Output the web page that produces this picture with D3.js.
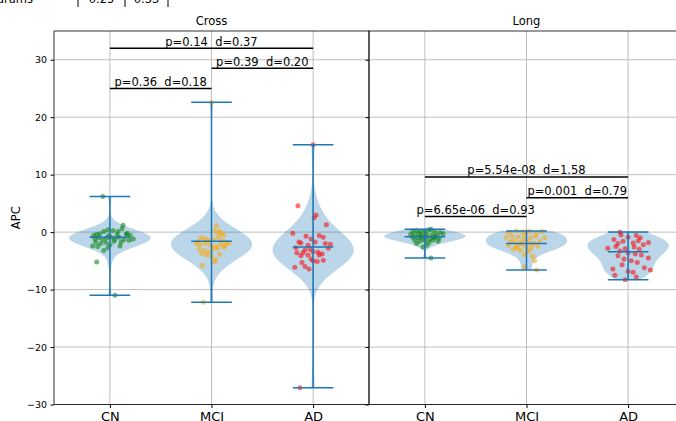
<!DOCTYPE html>
<html>
<head>
<meta charset="utf-8">
<script src="https://cdn.jsdelivr.net/npm/d3@7"></script>
<style>
  body { margin: 0; background: #fff; overflow: hidden; }
  svg { display: block; }
  text { font-family: "DejaVu Sans", sans-serif; fill: #000; }
</style>
</head>
<body>
<svg id="chart" width="676" height="421"></svg>
<script>
const categories = ["CN", "MCI", "AD"];
const panelTitles = ["Cross", "Long"];
const yTicks = [-30, -20, -10, 0, 10, 20, 30];
const pointColors = ["green", "orange", "red"];

// [jitter offset, APC value]
const crossCN = [
  [-0.07, 6.2], [0.05, -11.0], [-0.13, -5.2],
  [-0.16, -0.6], [-0.13, -0.4], [-0.1, -0.3], [-0.06, 0.1], [-0.02, 0.4], [0.03, 0.3], [0.08, 0.1], [0.12, 0.6], [0.16, -0.4], [0.2, -0.6],
  [-0.15, -1.1], [-0.11, -1.0], [-0.07, -1.3], [-0.03, -1.0], [0.01, -0.9], [0.05, -1.2], [0.09, -0.9], [0.14, -1.3], [0.19, -1.4], [0.23, -1.2],
  [-0.14, -1.7], [-0.09, -2.0], [-0.04, -1.8], [0.0, -2.2], [0.04, -1.6], [0.1, -2.4], [-0.17, -2.4], [-0.12, -2.5], [-0.02, -2.7],
  [-0.06, -3.2], [0.13, 1.2], [0.17, -0.2], [0.07, -0.5], [-0.01, -0.6], [0.11, -1.7]
];
const crossMCI = [
  [0.0, 22.6], [-0.08, -12.2], [-0.09, -5.8],
  [0.05, 1.1], [0.08, 0.1], [0.1, -0.3], [0.12, -0.5], [0.03, 0.3], [0.06, -0.2],
  [-0.1, -1.0], [-0.07, -1.2], [-0.04, -1.4], [-0.02, -1.6], [0.02, -1.3], [0.07, -1.0], [0.11, -1.5], [0.15, -1.8], [-0.13, -1.6],
  [-0.15, -2.0], [-0.11, -2.2], [-0.06, -2.0], [-0.01, -2.3], [0.04, -2.5], [0.09, -2.1], [0.13, -2.4], [0.17, -2.0],
  [-0.12, -2.9], [-0.07, -3.2], [-0.03, -3.5], [0.01, -3.0], [0.06, -2.8], [0.12, -2.6],
  [-0.1, -3.7], [0.0, -4.3], [0.04, -4.8], [0.08, -3.9], [-0.05, -4.0], [0.03, -5.2]
];
const crossAD = [
  [0.0, 15.2], [-0.13, -27.1], [-0.15, 4.6],
  [0.03, 3.0], [0.01, 2.5], [0.13, 1.3], [-0.2, -0.2], [-0.07, -0.7], [0.06, -0.6], [0.1, -0.9], [-0.02, -1.2],
  [-0.14, -1.7], [-0.12, -1.9], [0.02, -1.7], [0.12, -2.0], [0.17, -2.1], [-0.05, -2.3],
  [-0.17, -2.7], [0.15, -2.8], [-0.08, -3.1], [-0.03, -3.0], [0.0, -3.4], [-0.1, -3.6], [-0.16, -3.6], [0.05, -3.5],
  [-0.12, -4.1], [-0.05, -4.0], [0.06, -4.0], [0.09, -3.8], [-0.02, -4.7], [0.1, -4.9], [0.04, -5.1], [0.0, -5.0],
  [-0.18, -6.1], [-0.08, -6.0], [-0.04, -6.4], [-0.11, -5.3]
];
const longCN = [
  [0.06, -4.5], [0.06, 0.5], [-0.12, 0.2], [-0.08, 0.3], [-0.04, 0.1], [0.0, 0.2], [0.04, 0.4], [0.1, 0.1], [0.15, -0.1],
  [-0.14, -0.4], [-0.1, -0.5], [-0.06, -0.3], [-0.02, -0.6], [0.02, -0.4], [0.07, -0.5], [0.12, -0.6], [0.18, -0.3],
  [-0.12, -0.9], [-0.07, -1.0], [-0.03, -1.1], [0.01, -0.9], [0.05, -1.2], [0.09, -1.0], [0.14, -1.1],
  [-0.1, -1.4], [-0.05, -1.6], [0.0, -1.5], [0.04, -1.8], [0.08, -1.4], [0.13, -1.6], [-0.08, -2.0], [0.02, -2.3],
  [-0.02, -2.6], [0.1, -0.8], [-0.04, -0.7]
];
const longMCI = [
  [0.0, 0.05], [0.1, -6.6], [0.08, -5.0], [-0.02, -6.0],
  [-0.17, -0.1], [-0.1, 0.2], [-0.04, 0.0], [0.03, 0.1], [0.1, -0.2], [0.15, 0.1],
  [-0.2, -0.9], [-0.14, -0.7], [-0.08, -0.8], [-0.02, -0.6], [0.04, -1.0], [0.09, -0.7], [0.18, -1.0],
  [-0.16, -1.6], [-0.12, -1.5], [-0.07, -1.8], [-0.03, -1.4], [0.02, -1.7], [0.07, -1.9], [0.13, -1.6],
  [-0.18, -2.3], [-0.1, -2.4], [-0.05, -2.2], [0.0, -2.6], [0.05, -2.3], [0.11, -2.5],
  [-0.13, -3.0], [-0.06, -3.2], [0.01, -3.4], [-0.02, -3.9], [0.04, -3.0], [-0.09, -2.8], [0.06, -4.2]
];
const longAD = [
  [-0.08, 0.0], [-0.03, -8.3], [-0.07, -0.5], [0.0, -0.9], [0.08, -0.6], [0.12, -1.0],
  [-0.14, -1.3], [-0.05, -1.6], [0.05, -1.9], [0.1, -1.5], [-0.1, -2.0], [0.15, -2.2],
  [-0.2, -2.8], [-0.12, -2.5], [-0.03, -2.9], [0.06, -2.6], [0.11, -3.0], [-0.08, -3.3],
  [0.0, -3.6], [0.07, -3.8], [0.13, -4.0], [0.2, -4.5], [-0.1, -4.1], [-0.04, -4.7],
  [0.03, -5.0], [0.09, -5.3], [-0.06, -5.7], [0.16, -6.2], [0.22, -6.6], [-0.15, -6.4],
  [0.05, -7.0], [-0.13, -7.5], [0.08, -7.8], [0.0, -6.8], [0.2, -1.8]
];

// centre line value of each violin (mean)
const crossMeans = [-0.9, -1.6, -2.6];
const longMeans = [-0.8, -2.0, -3.4];

// significance brackets: from / to category index, height, label
const crossFrom = [0, 0, 1];
const crossTo = [1, 2, 2];
const crossHeight = [25, 32, 28.5];
const crossLabels = ["p=0.36  d=0.18", "p=0.14  d=0.37", "p=0.39  d=0.20"];
const longFrom = [0, 0, 1];
const longTo = [1, 2, 2];
const longHeight = [2.7, 9.6, 6.0];
const longLabels = ["p=6.65e-06  d=0.93", "p=5.54e-08  d=1.58", "p=0.001  d=0.79"];

// cut-off table row above the figure
const headerLabel = "Params";
const headerCells = ["0.25", "0.33"];

const panels = [
  { title: panelTitles[0], groups: [crossCN, crossMCI, crossAD], means: crossMeans,
    from: crossFrom, to: crossTo, h: crossHeight, labels: crossLabels },
  { title: panelTitles[1], groups: [longCN, longMCI, longAD], means: longMeans,
    from: longFrom, to: longTo, h: longHeight, labels: longLabels },
];

const svg = d3.select("#chart");
const marginTop = 31;
const marginBottom = 404.5;
const panelLeft = 54;
const panelWidth = 315;
const blue = "#1f77b4";

const y = d3.scaleLinear().domain([-30, 35]).range([marginBottom, marginTop]);

function kde(values) {
  const n = values.length;
  const sd = d3.deviation(values);
  const bw = sd * Math.pow(n, -1 / 5);
  const [lo, hi] = d3.extent(values);
  const pts = d3.range(100).map((i) => lo + (hi - lo) * i / 99);
  return pts.map((v) => [v, d3.sum(values, (d) => Math.exp(-0.5 * ((v - d) / bw) ** 2))]);
}

// header row, mostly outside the top edge
svg.append("text").attr("x", 33).attr("y", 3).attr("text-anchor", "end")
  .style("font-size", "11.5px").text(headerLabel);
[78, 125, 168].forEach((px) => {
  svg.append("line").attr("x1", px).attr("x2", px).attr("y1", 0).attr("y2", 7)
    .attr("stroke", "#000").attr("stroke-width", 1);
});
headerCells.forEach((c, i) => {
  svg.append("text").attr("x", [101.5, 146.5][i]).attr("y", 3).attr("text-anchor", "middle")
    .style("font-size", "11.5px").text(c);
});

panels.forEach((p, pi) => {
  const x0 = panelLeft + pi * panelWidth;
  const x = d3.scaleLinear().domain([0.45, 3.55]).range([x0, x0 + panelWidth]);
  const g = svg.append("g");

  // grid
  g.selectAll(".hgrid").data(yTicks).join("line")
    .attr("x1", x0).attr("x2", x0 + panelWidth)
    .attr("y1", (d) => y(d)).attr("y2", (d) => y(d))
    .attr("stroke", "#b0b0b0").attr("stroke-width", 0.8);
  g.selectAll(".vgrid").data(categories).join("line")
    .attr("x1", (d, i) => x(i + 1)).attr("x2", (d, i) => x(i + 1))
    .attr("y1", marginTop).attr("y2", marginBottom)
    .attr("stroke", "#b0b0b0").attr("stroke-width", 0.8);

  p.groups.forEach((grp, gi) => {
    const vals = grp.map((d) => d[1]);
    const dens = kde(vals);
    const maxD = d3.max(dens, (d) => d[1]);
    const area = d3.area()
      .y((d) => y(d[0]))
      .x0((d) => x(gi + 1 - 0.4 * d[1] / maxD))
      .x1((d) => x(gi + 1 + 0.4 * d[1] / maxD));
    g.append("path").datum(dens).attr("d", area)
      .attr("fill", blue).attr("fill-opacity", 0.3);

    g.selectAll(null).data(grp).join("circle")
      .attr("cx", (d) => x(gi + 1 + d[0])).attr("cy", (d) => y(d[1]))
      .attr("r", 2.5).attr("fill", pointColors[gi]).attr("fill-opacity", 0.55);

    const [lo, hi] = d3.extent(vals);
    g.append("line").attr("x1", x(gi + 1)).attr("x2", x(gi + 1))
      .attr("y1", y(lo)).attr("y2", y(hi))
      .attr("stroke", blue).attr("stroke-width", 1.5);
    [lo, hi, p.means[gi]].forEach((v) => {
      g.append("line").attr("x1", x(gi + 0.8)).attr("x2", x(gi + 1.2))
        .attr("y1", y(v)).attr("y2", y(v))
        .attr("stroke", blue).attr("stroke-width", 1.5);
    });
  });

  // brackets
  p.labels.forEach((lab, k) => {
    const xa = x(p.from[k] + 1), xb = x(p.to[k] + 1), yy = y(p.h[k]);
    g.append("line").attr("x1", xa).attr("x2", xb).attr("y1", yy).attr("y2", yy)
      .attr("stroke", "#000").attr("stroke-width", 1.5);
    g.append("text").attr("x", (xa + xb) / 2).attr("y", yy - 2.5)
      .attr("text-anchor", "middle").attr("xml:space", "preserve")
      .style("font-size", "11.5px").text(lab);
  });

  // frame
  g.append("rect").attr("x", x0).attr("y", marginTop)
    .attr("width", panelWidth).attr("height", marginBottom - marginTop)
    .attr("fill", "none").attr("stroke", "#000").attr("stroke-width", 0.8);

  // x axis
  const xAxis = g.append("g").attr("transform", `translate(0,${marginBottom})`)
    .call(d3.axisBottom(x).tickValues([1, 2, 3]).tickFormat((d) => categories[d - 1])
      .tickSize(3.5).tickPadding(4));
  xAxis.select(".domain").remove();
  xAxis.selectAll("text").style("font-size", "13px").style("font-family", "DejaVu Sans");

  // y axis
  const yAxis = g.append("g").attr("transform", `translate(${x0},0)`)
    .call(d3.axisLeft(y).tickValues(yTicks).tickSize(3.5).tickPadding(3.5)
      .tickFormat((d) => (pi === 0 ? d3.format("")(d).replace("-", "\u2212") : "")));
  yAxis.select(".domain").remove();
  yAxis.selectAll("text").style("font-size", "9.5px").style("font-family", "DejaVu Sans");

  svg.append("text").attr("x", x0 + panelWidth / 2).attr("y", 25)
    .attr("text-anchor", "middle").style("font-size", "11.5px").text(p.title);
});

svg.append("text")
  .attr("transform", `translate(20,${(marginTop + marginBottom) / 2}) rotate(-90)`)
  .attr("text-anchor", "middle").style("font-size", "11.5px").text("APC");
</script>
</body>
</html>
